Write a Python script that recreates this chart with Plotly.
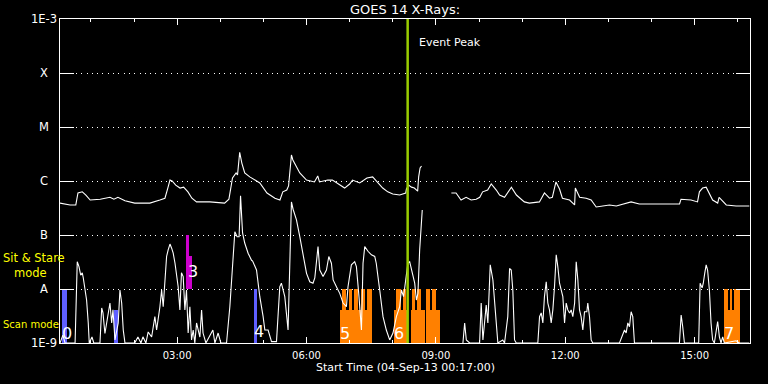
import math
import pandas as pd
import plotly.graph_objects as go

DAY = pd.Timestamp("2013-09-04")
X_START = "2013-09-04 00:17:00"
X_END = "2013-09-04 16:17:00"

# ---------------- data (minutes after 00:00 UT, flux in W/m^2) ----------------
# Long channel (1-8 A)
long_t = [17, 31, 39, 42, 48, 53, 59, 73, 86.5, 92,
          97.6, 107.4, 121, 142, 156, 163, 167, 170, 173, 178,
          184, 189, 195, 200.5, 207, 225.5, 246, 252, 257, 262,
          264, 267, 270, 274, 281, 288, 295, 305, 316, 323,
          327, 332.5, 335, 339, 341, 350.6, 360, 371, 375.6, 378,
          389.5, 396, 406, 413, 420, 424, 434, 444, 452, 459,
          466, 473, 480, 489.6, 498, 499, 502, 506, 510, 514.6,
          516, 518, 520, 540,
          561.5, 568, 575, 582, 589, 596, 601, 605, 612, 617,
          624, 628.6, 635.5, 645, 652, 663, 670, 684, 691, 698,
          702, 707, 712, 716, 726, 733, 734, 740, 749, 756,
          763, 781.5, 791, 800, 811.6, 823, 851, 879, 881, 895,
          904, 906.6, 911, 916, 925, 932, 934, 944, 957.6, 976]
long_f = [3.9e-7, 3.6e-7, 3.6e-7, 6.0e-7, 6.3e-7, 5.5e-7, 4.45e-7, 4.6e-7, 5.0e-7, 4.6e-7,
          5.0e-7, 4.3e-7, 3.9e-7, 3.9e-7, 4.45e-7, 4.8e-7, 7.4e-7, 1.04e-6, 1.0e-6, 8.4e-7,
          7.4e-7, 7.7e-7, 6.3e-7, 4.8e-7, 4.1e-7, 4.1e-7, 3.9e-7, 4.6e-7, 1.14e-6, 1.41e-6,
          1.29e-6, 3.4e-6, 2.15e-6, 1.41e-6, 1.19e-6, 1.04e-6, 9.2e-7, 6.0e-7, 4.8e-7, 4.45e-7,
          6.3e-7, 6.8e-7, 8.1e-7, 3.03e-6, 2.45e-6, 1.41e-6, 1.04e-6, 9.6e-7, 1.24e-6, 9.6e-7,
          1.04e-6, 1.04e-6, 8.4e-7, 7.4e-7, 8.8e-7, 1.04e-6, 9.2e-7, 1.14e-6, 1.19e-6, 9.6e-7,
          7.4e-7, 6.3e-7, 5.75e-7, 5.5e-7, 6.0e-7, 7.1e-7, 8.4e-7, 7.7e-7, 7.4e-7, 6.5e-7,
          1.19e-6, 1.74e-6, 1.9e-6, None,
          6.0e-7, 6.0e-7, 4.45e-7, 5.0e-7, 4.45e-7, 4.6e-7, 5.0e-7, 6.3e-7, 6.8e-7, 8.8e-7,
          6.8e-7, 5.5e-7, 5.0e-7, 7.7e-7, 5.5e-7, 4.1e-7, 3.9e-7, 4.1e-7, 6.0e-7, 4.8e-7,
          5.0e-7, 9.6e-7, 7.1e-7, 4.8e-7, 4.45e-7, 3.6e-7, 7.4e-7, 5.0e-7, 4.8e-7, 4.45e-7,
          3.3e-7, 3.6e-7, 3.45e-7, 3.75e-7, 4.1e-7, 3.75e-7, 3.7e-7, 3.75e-7, 4.6e-7, 4.45e-7,
          4.1e-7, 6.3e-7, 7.4e-7, 7.7e-7, 4.45e-7, 3.9e-7, 5.0e-7, 3.6e-7, 3.45e-7, 3.45e-7]

# Short channel (0.5-4 A)
short_t = [17, 21, 24, 38, 41, 43.4, 45.8, 48, 49.4, 51.75,
           54, 56.3, 57.7, 61.5, 64, 72.6, 75, 76.8, 79.5, 86.5,
           88.9, 90.7, 93.5, 98, 100.4, 102.8, 105, 107.4, 121, 125.4,
           129.6, 132.4, 136.5, 139.7, 144.5, 149, 151.4, 156, 158.4, 160.6,
           163, 165.3, 167.5, 170, 172.3, 174.5, 177, 179, 181.4, 183.8,
           186, 188.4, 190.75, 193, 195.3, 197.7, 200, 202.3, 204.6, 207,
           211.6, 214, 216, 220, 229.7, 232.5, 237, 240.8, 248.7, 253.3,
           257.9, 260.25, 263.4, 266.2, 268.2, 271, 274, 278.7, 283.5, 285,
           290.4, 295, 299.6, 302, 306.5, 311.3, 318.2, 322.8, 325, 329.75,
           334.3, 336.7, 339, 341.3, 346, 350.6, 355.2, 360, 364.5, 369,
           371.5, 373.8, 376, 378.4, 383, 387.7, 391, 394.6, 397, 401.6,
           406.2, 410.8, 415.5, 417.7, 420, 422.4, 427, 429.4, 433, 436.4,
           438.6, 441, 445.5, 450.3, 454.9, 457, 461.8, 466.4, 471, 475.7,
           480.3, 485, 489.6, 492, 495, 498, 501, 503.5, 505.8, 508,
           510.5, 512.8, 515, 517.4, 519.8, 521, 550,
           577.6, 580, 582.3, 587, 600.8, 603, 605.4, 610, 612.3, 615.6,
           619.3, 624, 626.2, 633, 635.5, 640, 642.5, 644.8, 647, 649.4,
           651.8, 681.8, 684.2, 686.5, 688.8, 691, 693.5, 695.7, 698, 700.4,
           702.7, 705, 707.4, 709.6, 712, 714.3, 716.6, 719, 721.3, 723.5,
           726, 728.2, 730.5, 733, 735.2, 737.5, 739.8, 742, 744.4, 746.75,
           750, 751.3, 753.7, 756, 758.3, 795.4, 800, 802.4, 804.7, 807,
           809.3, 811.6, 813.9, 816.25, 878.8, 881.2, 883.4, 885.75, 905.6, 907.6,
           910.4, 912, 914, 916, 918, 920.5, 922.8, 925, 927.4, 932,
           934.4, 936.7, 939, 941.3, 957.6, 962, 976]
short_f = [1e-9, 1.4e-9, 1e-9, 1e-9, 3.2e-8, 2.6e-8, 1.8e-8, 2.0e-8, 1.6e-8, 9.6e-9,
           6.25e-9, 2.35e-9, 1e-9, 1.29e-9, 1e-9, 1e-9, 4.45e-9, 3.6e-9, 1.5e-9, 5.5e-9,
           2.35e-9, 4.1e-9, 1.14e-9, 2.35e-9, 9.6e-9, 5.5e-9, 1.74e-9, 1e-9, 1e-9, 1.29e-9,
           1e-9, 1.3e-9, 1e-9, 1.6e-9, 1.29e-9, 3.07e-9, 1.74e-9, 4.7e-9, 9.6e-9, 4.7e-9,
           1.47e-8, 4.0e-8, 5.3e-8, 6.8e-8, 5.7e-8, 4.6e-8, 3.0e-8, 1.7e-8, 1.1e-8, 4.1e-9,
           2.0e-8, 1.7e-8, 4.1e-9, 9.6e-9, 1.53e-9, 4.7e-9, 1.14e-9, 1.74e-9, 1e-9, 2.35e-9,
           1.29e-9, 4.1e-9, 1.53e-9, 1e-9, 1.74e-9, 1e-9, 1.53e-9, 1e-9, 1e-9, 4.7e-9,
           4.0e-8, 1.15e-7, 9.3e-8, 9.3e-8, 5.3e-7, 1.09e-7, 7.1e-8, 4.6e-8, 3.4e-8, 3.3e-8,
           2.25e-8, 7.2e-9, 3.07e-9, 1.74e-9, 1.74e-9, 1.06e-9, 1.06e-9, 1.1e-8, 1.28e-8, 7.2e-9,
           1.74e-9, 3.0e-8, 4.1e-7, 3.0e-7, 1.9e-7, 9.3e-8, 4.6e-8, 1.95e-8, 1.36e-8, 1.28e-8,
           1.6e-8, 3.0e-8, 6.1e-8, 2.25e-8, 1.7e-8, 2.25e-8, 4.0e-8, 3.0e-8, 1.47e-8, 1.1e-8,
           8.3e-9, 5.5e-9, 4.7e-9, 1.1e-8, 1.95e-8, 2.8e-8, 3.2e-8, 2.6e-8, 7.2e-9, 1.74e-9,
           3.0e-8, 6.1e-8, 5.0e-8, 4.3e-8, 4.0e-8, 3.0e-8, 9.6e-9, 3.07e-9, 1.74e-9, 1.14e-9,
           1.53e-9, 3.07e-9, 4.7e-9, 9.6e-9, 7.2e-9, 1.47e-8, 3.0e-8, 3.2e-8, 2.25e-8, 1.7e-8,
           1.28e-8, 6.25e-9, 8.3e-9, 5.3e-8, 2.2e-7, 2.9e-7, None,
           1e-9, 2.35e-9, 1.14e-9, 1e-9, 1e-9, 5.5e-9, 1.14e-9, 5.06e-9, 2.35e-9, 2.8e-8,
           1.47e-8, 2.35e-9, 1e-9, 1.14e-9, 1e-9, 3.07e-9, 2.4e-8, 2.25e-8, 9.6e-9, 1.14e-9,
           1e-9, 1e-9, 3.07e-9, 3.6e-9, 2.35e-9, 7.2e-9, 1.36e-8, 5.5e-9, 4.1e-9, 2.35e-9,
           4.1e-9, 1.1e-8, 4.3e-8, 2.6e-8, 1.28e-8, 9.6e-9, 7.2e-9, 2.35e-9, 5.5e-9, 4.1e-9,
           3.6e-9, 4.1e-9, 3.07e-9, 5.5e-9, 3.2e-8, 1.47e-8, 4.1e-9, 3.07e-9, 1.74e-9, 3.8e-9,
           3.8e-9, 5.5e-9, 3.07e-9, 1.14e-9, 1e-9, 1e-9, 1.53e-9, 1.74e-9, 1.53e-9, 2.35e-9,
           2.0e-9, 3.8e-9, 3.07e-9, 1e-9, 1e-9, 3.3e-9, 2.0e-9, 1e-9, 1e-9, 1.28e-8,
           1.05e-8, 1.28e-8, 1.95e-8, 2.8e-8, 2.25e-8, 9.6e-9, 2.35e-9, 1.14e-9, 1e-9, 2.5e-9,
           1.3e-9, 1e-9, 1.3e-9, 1e-9, 1.1e-9, 1e-9, 1e-9]

# Observation mode bars: start, end (minutes), bottom and top flux levels
scan_start = [19.4, 92.1, 286.7]
scan_end = [26.3, 97.6, 290.8]
scan_base = [1e-9, 1e-9, 1e-9]
scan_top = [1e-8, 4.1e-9, 1e-8]

stare_start = [192.1, 196.3]
stare_end = [196.3, 200.5]
stare_base = [1e-8, 1e-8]
stare_top = [1e-7, 4.1e-8]

orange_start = [406.2, 481.3, 505.9, 526.7, 941.4,
                409, 419.4, 426.4, 436.1, 443.7,
                485, 494.2, 506.3, 514.2, 526.7, 535,
                941.4, 949.7, 955.3]
orange_end = [450.7, 500, 524.4, 546.2, 963.2,
              415.2, 423.6, 431.9, 441, 450.7,
              492, 498, 511.4, 519.8, 531.3, 539.6,
              947, 952.5, 963.2]
orange_top = [4.1e-9] * 5 + [1e-8] * 14
orange_base = [1e-9] * 19

event_peak_min = 500.7

bar_labels = ["0", "3", "4", "5", "6", "7"]
bar_label_t = [27.4, 201.9, 293.6, 413.2, 488.2, 948.3]
bar_label_logf = [-8.815, -7.667, -8.796, -8.815, -8.815, -8.833]

ytick_vals = [1e-9, 1e-8, 1e-7, 1e-6, 1e-5, 1e-4, 1e-3]
ytick_text = ["1E-9", "A", "B", "C", "M", "X", "1E-3"]


def to_time(mins):
    return [DAY + pd.Timedelta(minutes=m) for m in mins]


def bar_trace(start, end, base, top, color):
    centers = [DAY + pd.Timedelta(minutes=(s + e) / 2) for s, e in zip(start, end)]
    widths = [(e - s) * 60000 for s, e in zip(start, end)]
    heights = [t - b for t, b in zip(top, base)]
    return go.Bar(x=centers, y=heights, base=base, width=widths,
                  marker=dict(color=color, line=dict(width=0)),
                  showlegend=False, hoverinfo="skip")


FONT = "DejaVu Sans"
fig = go.Figure()
fig.add_trace(bar_trace(scan_start, scan_end, scan_base, scan_top, "#5f5fff"))
fig.add_trace(bar_trace(stare_start, stare_end, stare_base, stare_top, "#cc00cc"))
fig.add_trace(bar_trace(orange_start, orange_end, orange_base, orange_top, "#ff8000"))

fig.add_trace(go.Scatter(x=to_time(long_t), y=long_f, mode="lines",
                         line=dict(color="white", width=1.1), connectgaps=False,
                         showlegend=False, hoverinfo="skip"))
fig.add_trace(go.Scatter(x=to_time(short_t), y=short_f, mode="lines",
                         line=dict(color="white", width=1.1), connectgaps=False,
                         showlegend=False, hoverinfo="skip"))
evt = DAY + pd.Timedelta(minutes=event_peak_min)
fig.add_trace(go.Scatter(x=[evt, evt], y=[1e-9, 1e-3], mode="lines",
                         line=dict(color="#99cc00", width=2.5),
                         showlegend=False, hoverinfo="skip"))

ann = []
for v, t in zip(ytick_vals, ytick_text):
    ann.append(dict(xref="paper", yref="y", x=-16 / 690, y=math.log10(v), text=t,
                    showarrow=False, xanchor="center", yanchor="middle",
                    font=dict(family=FONT, size=11.5, color="white")))
for t, tm, lf in zip(bar_labels, bar_label_t, bar_label_logf):
    ann.append(dict(xref="x", yref="y", x=DAY + pd.Timedelta(minutes=tm), y=lf, text=t,
                    showarrow=False, xanchor="center", yanchor="middle",
                    font=dict(family=FONT, size=16, color="white")))
ann.append(dict(xref="x", yref="y", x=evt, y=-3.444, text="Event Peak", showarrow=False,
                xanchor="left", yanchor="middle", xshift=9,
                font=dict(family=FONT, size=11, color="white")))
ann.append(dict(xref="paper", yref="paper", x=0.5, y=(343 - 9) / 324, text="GOES 14 X-Rays:",
                showarrow=False, xanchor="center", yanchor="middle",
                font=dict(family=FONT, size=13, color="white")))
ann.append(dict(xref="paper", yref="paper", x=0.5, y=(343 - 368) / 324,
                text="Start Time (04-Sep-13 00:17:00)", showarrow=False,
                xanchor="center", yanchor="middle",
                font=dict(family=FONT, size=11, color="white")))
ann.append(dict(xref="paper", yref="paper", x=(1 - 60) / 690, y=(343 - 265) / 324,
                text="Sit & Stare<br>\u00a0\u00a0\u00a0mode", align="left",
                showarrow=False, xanchor="left", yanchor="middle",
                font=dict(family=FONT, size=11.5, color="#ffff00")))
ann.append(dict(xref="paper", yref="paper", x=(1 - 60) / 690, y=(343 - 324) / 324,
                text="Scan mode", showarrow=False, xanchor="left", yanchor="middle",
                font=dict(family=FONT, size=10, color="#ffff00")))

fig.update_layout(
    width=768, height=384,
    margin=dict(l=60, r=18, t=19, b=41),
    paper_bgcolor="black", plot_bgcolor="black",
    barmode="overlay", bargap=0,
    showlegend=False,
    annotations=ann,
    font=dict(family=FONT, color="white"),
    xaxis=dict(type="date", range=[X_START, X_END],
               showgrid=False, zeroline=False,
               showline=True, linecolor="white", linewidth=1, mirror="allticks",
               ticks="inside", ticklen=6, tickcolor="white", tickwidth=1,
               tick0="2013-09-04 03:00:00", dtick=3 * 3600 * 1000,
               ticklabelstandoff=3,
               tickformat="%H:%M", tickfont=dict(family=FONT, size=10, color="white"),
               minor=dict(ticks="inside", ticklen=3, tickcolor="white",
                          dtick=3600 * 1000, tick0="2013-09-04 01:00:00", showgrid=False)),
    yaxis=dict(type="log", range=[-9, -3],
               tickvals=ytick_vals, showticklabels=False,
               showgrid=True, gridcolor="white", gridwidth=1, griddash="1px,4.3px",
               zeroline=False,
               showline=True, linecolor="white", linewidth=1, mirror="allticks",
               ticks="inside", ticklen=14, tickcolor="white", tickwidth=1),
)

fig.write_html("out.html")
